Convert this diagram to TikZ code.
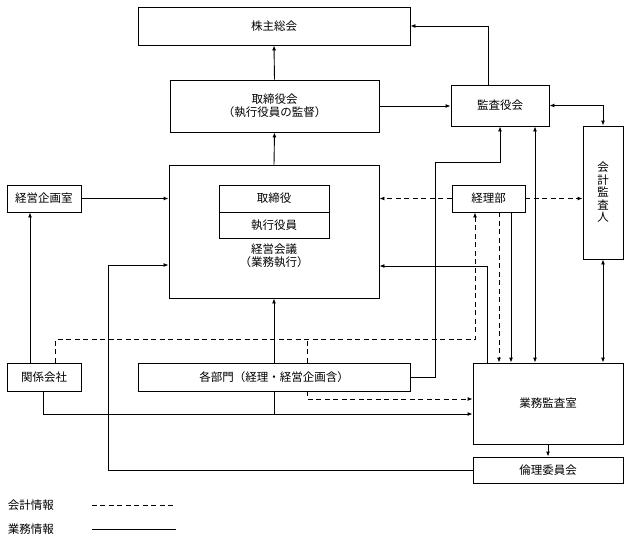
\documentclass[tikz,border=0pt]{standalone}
\usepackage{fontspec}
\setmainfont{Noto Sans CJK JP}
\usetikzlibrary{arrows.meta,calc}

\begin{document}
\begin{tikzpicture}[
  x=1pt, y=-1pt,
  font=\fontsize{11.5}{13}\selectfont, >={Latex[length=5pt,width=4pt]},
  line width=0.9pt,
  orgbox/.style={draw, inner sep=0pt, align=center},
  msg/.style={->},
  dmsg/.style={<->},
  acctmsg/.style={->, dash pattern=on 5pt off 3.5pt},
  acctline/.style={dash pattern=on 5pt off 3.5pt}
]
\useasboundingbox (0,0) rectangle (629,542);

% -- Top: shareholders, board, auditors.
\node[orgbox, minimum width=272pt, minimum height=38pt] (agm)   at (274,26)    {株主総会};
\node[orgbox, minimum width=209pt, minimum height=52pt] (board) at (274.5,106) {取締役会\\（執行役員の監督）};
\node[orgbox, minimum width=98pt,  minimum height=41pt] (kansa) at (500,105.5) {監査役会};
\node[orgbox, minimum width=40pt,  minimum height=133pt, font=\fontsize{11.5}{12.5}\selectfont] (auditor) at (603,192.5) {会\\計\\監\\査\\人};

% -- Management meeting with its inner two-row box.
\node[orgbox, minimum width=210pt, minimum height=133pt] (mgmt) at (274,231.5) {};
\node[orgbox, minimum width=110pt, minimum height=27pt] (dir)  at (274,198.5) {取締役};
\node[orgbox, minimum width=110pt, minimum height=26pt] (exec) at (274,225)   {執行役員};
\node[align=center] (mgmtlbl) at (274,255.5) {経営会議\\（業務執行）};

\node[orgbox, minimum width=74pt, minimum height=27pt] (plan) at (44,198.5)  {経営企画室};
\node[orgbox, minimum width=73pt, minimum height=27pt] (acct) at (488.5,198.5) {経理部};

% -- Lower row.
\node[orgbox, minimum width=74pt,  minimum height=28pt] (affil)  at (44,377)    {関係会社};
\node[orgbox, minimum width=272pt, minimum height=28pt] (depts)  at (274,377)   {各部門（経理・経営企画含）};
\node[orgbox, minimum width=150pt, minimum height=81pt] (audit)  at (548,403.5) {業務監査室};
\node[orgbox, minimum width=150pt, minimum height=26pt] (ethics) at (548,470)   {倫理委員会};

% -- Business information (solid).
\draw[msg] (board.north) -- (agm.south);
\draw[msg] ([xshift=-12pt]kansa.north) |- (agm.east);
\draw[msg] (board.east) -- (board.east -| kansa.west);
\draw[dmsg] (kansa.east) -| (auditor.north);
\draw[msg] (mgmt.north) -- (board.south);
\draw[msg] (plan.east) -- (plan.east -| mgmt.west);
\draw[msg] (depts.east) -- ++(25,0) |- ($(kansa.south)+(0,36)$) -- (kansa.south);
\draw[dmsg] ([xshift=35pt]kansa.south) -- ([xshift=35pt]kansa.south |- audit.north);
\draw[dmsg] (auditor.south) -- (auditor.south |- audit.north);
\draw[msg] ([xshift=22.5pt]acct.south) -- ([xshift=22.5pt]acct.south |- audit.north);
\draw[msg] ([xshift=-14pt]affil.north) -- ([xshift=-14pt]plan.south);
\draw[msg] ([xshift=-1pt]affil.south) |- ([yshift=-10.5pt]audit.west);
\draw (depts.south) -- ++(0,23);
\draw[msg] (depts.north) -- (mgmt.south);
\draw[msg] (ethics.west) -| ([xshift=-60pt,yshift=-33.5pt]mgmt.west) -- ([yshift=-33.5pt]mgmt.west);
\draw[msg] ([xshift=-61pt]audit.north) |- ([yshift=-34.5pt]mgmt.east);
\draw[msg] (audit.south) -- (ethics.north);

% -- Accounting information (dashed).
\draw[acctmsg] (acct.west) -- (acct.west -| mgmt.east);
\draw[acctmsg] (acct.east) -- (acct.east -| auditor.west);
\draw[acctmsg] ([xshift=10.5pt]acct.south) -- ([xshift=10.5pt]acct.south |- audit.north);
\draw[acctmsg] ([xshift=11pt]affil.north) -- ++(0,-23) -| ([xshift=-13.5pt]acct.south);
\draw[acctline] ([xshift=33pt]depts.north) -- ++(0,-23);
\draw[acctmsg] ([xshift=33pt]depts.south) |- ([yshift=4.5pt]audit.west);

% -- Legend.
\node[anchor=west] (lgacct) at (4,505) {会計情報};
\node[anchor=west] (lgops)  at (4,529) {業務情報};
\draw[acctline] (lgacct.east) ++(34,0) -- ++(81,0);
\draw (lgops.east) ++(34,0) -- ++(84,0);
\end{tikzpicture}
\end{document}
